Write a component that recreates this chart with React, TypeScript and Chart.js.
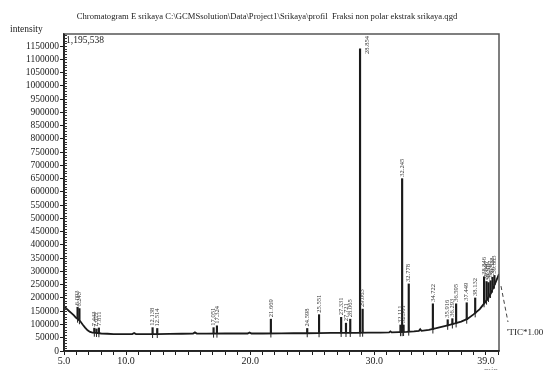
import React, { useEffect, useRef } from 'react';
import { Chart, registerables } from 'chart.js';

Chart.register(...registerables);

// ---- data ----
const titleText =
  'Chromatogram E srikaya C:\\GCMSsolution\\Data\\Project1\\Srikaya\\profil  Fraksi non polar ekstrak srikaya.qgd';
const yAxisName = 'intensity';
const maxIntensityLabel = '1,195,538';
const traceName = "'TIC*1.00";
const xUnit = 'min';

const xMin = 5.0;
const xMax = 40.05;
const yMax = 1195538;
const xLabelValues = [5, 10, 20, 30, 39];
const yMajorStep = 50000;
const yMinorStep = 10000;
const yLastLabel = 1150000;

// baseline of the TIC trace (retention time, intensity)
const baseTimes = [
  5.0, 5.2, 5.4, 5.6, 5.8, 5.95, 6.1, 6.3, 6.5, 6.7, 6.9, 7.1, 7.3, 7.6, 8.0, 8.5,
  9.0, 10.0, 10.5, 10.65, 10.8, 11.5, 12.5, 13.5, 14.5, 15.4, 15.55, 15.7, 16.5,
  18.0, 19.8, 19.95, 20.1, 21.0, 22.5, 23.5, 24.5, 25.5, 26.5, 27.5, 28.5, 29.5,
  30.5, 31.2, 31.3, 31.4, 32.0, 32.6, 33.2, 33.6, 33.7, 33.8, 34.4, 35.0, 35.5,
  36.0, 36.5, 37.0, 37.5, 38.0, 38.5, 39.0, 39.3, 39.6, 39.8, 40.05,
];
const baseIntensity = [
  170000, 160000, 151000, 143000, 134000, 126000, 121000, 113000, 100000, 88000,
  78000, 72000, 69000, 68000, 66000, 65000, 64000, 64000, 64000, 68000, 64000,
  64000, 64000, 64500, 65000, 65500, 70000, 65500, 65500, 66000, 66000, 70000,
  66000, 66000, 66500, 67000, 67000, 67500, 68000, 68000, 68500, 69000, 69500,
  70000, 74000, 70000, 71000, 72000, 74000, 76000, 82000, 76000, 80000, 86000,
  92000, 98000, 104000, 111000, 121000, 138000, 158000, 188000, 210000, 240000,
  262000, 290000,
];

// labelled peaks: retention time, foot, apex, label
const peakTimes = [
  6.093, 6.243, 7.443, 7.617, 7.811, 12.138, 12.514, 17.051, 17.324, 21.669,
  24.598, 25.551, 27.331, 27.721, 28.065, 28.854, 29.063, 32.111, 32.245, 32.361,
  32.778, 34.722, 35.916, 36.293, 36.595, 37.449, 38.132, 38.846, 39.046, 39.201,
  39.367, 39.528, 39.683,
];
const peakBases = [
  122000, 116000, 69000, 68000, 67000, 64000, 64000, 65500, 65500, 66000, 67000,
  67000, 68000, 68000, 68000, 68500, 69000, 71000, 71000, 71500, 73000, 81000,
  95000, 100000, 104000, 118000, 142000, 180000, 190000, 200000, 215000, 235000,
  250000,
];
const peakTops = [
  165000, 160000, 86000, 83000, 87000, 88000, 85000, 88000, 95000, 120000, 85000,
  137000, 127000, 105000, 120000, 1140000, 158000, 98000, 650000, 98000, 253000,
  178000, 118000, 122000, 178000, 182000, 200000, 280000, 262000, 258000, 265000,
  278000, 285000,
];
const peakLabels = [
  '6.093', '6.243', '7.443', '7.617', '7.811', '12.138', '12.514', '17.051',
  '17.324', '21.669', '24.598', '25.551', '27.331', '27.721', '28.065', '28.854',
  '29.063', '32.111', '32.245', '32.361', '32.778', '34.722', '35.916', '36.293',
  '36.595', '37.449', '38.132', '38.846', '39.046', '39.201', '39.367', '39.528',
  '39.683',
];

const FONT = '"Liberation Serif", "DejaVu Serif", serif';
const INK = '#1a1a1a';

const decorPlugin = {
  id: 'decor',
  afterDraw(chart: any) {
    const { ctx, chartArea, scales } = chart;
    const xs = scales.x;
    const ys = scales.y;
    ctx.save();

    // frame
    ctx.strokeStyle = '#555';
    ctx.lineWidth = 1.5;
    ctx.strokeRect(chartArea.left, chartArea.top, chartArea.right - chartArea.left, chartArea.bottom - chartArea.top);
    ctx.strokeStyle = INK;
    ctx.beginPath();
    ctx.moveTo(chartArea.left, chartArea.top);
    ctx.lineTo(chartArea.left, chartArea.bottom);
    ctx.lineTo(chartArea.right, chartArea.bottom);
    ctx.stroke();

    // minor ticks inside the y axis
    ctx.lineWidth = 1;
    ctx.strokeStyle = '#333';
    ctx.beginPath();
    for (let v = 0; v <= yMax; v += yMinorStep) {
      const y = Math.round(ys.getPixelForValue(v)) + 0.5;
      ctx.moveTo(chartArea.left, y);
      ctx.lineTo(chartArea.left + 3, y);
    }
    ctx.stroke();

    // peak labels (rotated)
    ctx.fillStyle = '#333';
    ctx.font = `6.5px ${FONT}`;
    ctx.textBaseline = 'middle';
    ctx.textAlign = 'left';
    peakTimes.forEach((t, i) => {
      const x = xs.getPixelForValue(t);
      const yTop = ys.getPixelForValue(peakTops[i]);
      const w = ctx.measureText(peakLabels[i]).width;
      let px = x;
      let py = yTop - 2;
      if (py - w < chartArea.top + 1) {
        px = x + 7;
        py = chartArea.top + 2 + w;
      }
      ctx.save();
      ctx.translate(px, py);
      ctx.rotate(-Math.PI / 2);
      ctx.fillText(peakLabels[i], 0, 0);
      ctx.restore();
    });

    // texts
    ctx.fillStyle = INK;
    ctx.font = `8.6px ${FONT}`;
    ctx.textAlign = 'center';
    ctx.fillText(titleText, 267, 17);
    ctx.textAlign = 'left';
    ctx.font = `9.5px ${FONT}`;
    ctx.fillText(yAxisName, 10, 29);
    ctx.fillText(maxIntensityLabel, chartArea.left + 2, chartArea.top + 6);
    ctx.font = `9px ${FONT}`;
    ctx.fillText(traceName, 507, 333);
    ctx.textBaseline = 'top';
    ctx.fillStyle = '#888';
    ctx.fillText(xUnit, 484, 366);

    // dashed leader to the trace name
    const endX = xs.getPixelForValue(baseTimes[baseTimes.length - 1]);
    const endY = ys.getPixelForValue(baseIntensity[baseIntensity.length - 1]);
    ctx.strokeStyle = '#444';
    ctx.lineWidth = 1;
    ctx.setLineDash([4, 3]);
    ctx.beginPath();
    ctx.moveTo(endX + 2, endY + 12);
    ctx.lineTo(508, 322);
    ctx.stroke();
    ctx.setLineDash([]);

    ctx.restore();
  },
};

export default function App() {
  const ref = useRef<HTMLCanvasElement | null>(null);

  useEffect(() => {
    if (!ref.current) return;
    const chart = new Chart(ref.current, {
      type: 'line',
      data: {
        datasets: [
          {
            type: 'line',
            label: 'TIC',
            data: baseTimes.map((t, i) => ({ x: t, y: baseIntensity[i] })),
            borderColor: INK,
            borderWidth: 1.8,
            pointRadius: 0,
            tension: 0,
            order: 2,
          } as any,
          {
            type: 'bar',
            label: 'peaks',
            data: peakTimes.map((t, i) => ({ x: t, y: [peakBases[i], peakTops[i]] })),
            backgroundColor: INK,
            borderWidth: 0,
            barThickness: 1.5,
            grouped: false,
            order: 1,
          } as any,
          {
            type: 'line',
            label: 'markers',
            data: peakTimes.map((t, i) => ({ x: t, y: peakBases[i] })),
            showLine: false,
            pointStyle: 'line',
            rotation: 90,
            pointRadius: 4,
            borderColor: '#222',
            borderWidth: 1,
            order: 0,
          } as any,
        ],
      },
      options: {
        responsive: false,
        animation: false,
        devicePixelRatio: 1,
        layout: { padding: { top: 34, right: 44, left: 0, bottom: 0 } },
        plugins: { legend: { display: false }, tooltip: { enabled: false }, title: { display: false } },
        scales: {
          x: {
            type: 'linear',
            min: xMin,
            max: xMax,
            offset: false,
            grid: { display: true, drawOnChartArea: false, tickLength: 4, color: INK, offset: false },
            border: { display: true, color: INK, width: 1.5 },
            afterBuildTicks: (s: any) => {
              const ticks: any[] = [];
              for (let v = Math.ceil(xMin); v <= Math.floor(xMax); v += 1) ticks.push({ value: v });
              s.ticks = ticks;
            },
            ticks: {
              autoSkip: false,
              maxRotation: 0,
              padding: 0,
              color: INK,
              font: { family: FONT, size: 10 },
              callback: (v: any) => (xLabelValues.includes(Number(v)) ? Number(v).toFixed(1) : ''),
            },
            afterFit: (s: any) => {
              s.height = 19;
            },
          },
          y: {
            type: 'linear',
            min: 0,
            max: yMax,
            grid: { display: true, drawOnChartArea: false, tickLength: 4, color: INK },
            border: { display: true, color: INK, width: 1.5 },
            afterBuildTicks: (s: any) => {
              const ticks: any[] = [];
              for (let v = 0; v <= yLastLabel; v += yMajorStep) ticks.push({ value: v });
              s.ticks = ticks;
            },
            ticks: {
              autoSkip: false,
              padding: 1,
              color: INK,
              font: { family: FONT, size: 9.5 },
              callback: (v: any) => String(v),
            },
            afterFit: (s: any) => {
              s.width = 64;
            },
          },
        },
      } as any,
      plugins: [decorPlugin],
    });
    return () => chart.destroy();
  }, []);

  return (
    <div style={{ position: 'fixed', left: 0, top: 0, width: 543, height: 370, background: '#fff' }}>
      <canvas ref={ref} width={543} height={370} style={{ display: 'block' }} />
    </div>
  );
}
